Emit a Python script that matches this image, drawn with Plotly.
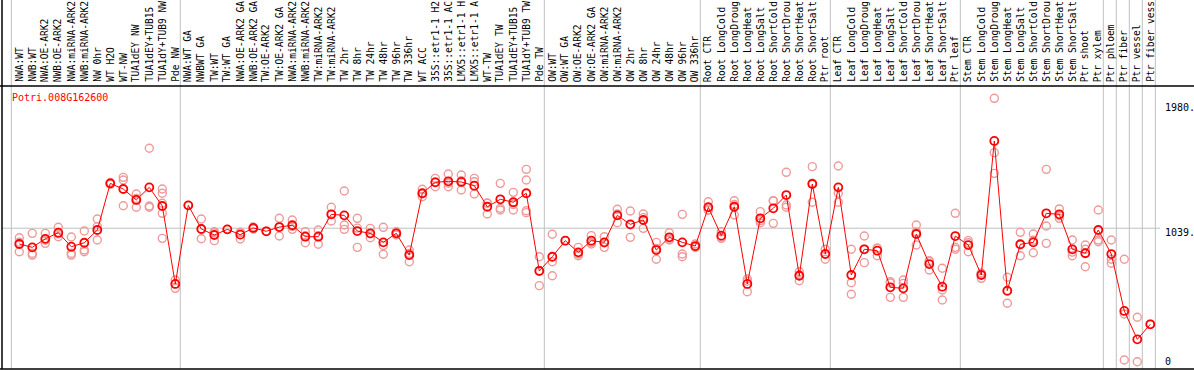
import plotly.graph_objects as go

title = "Potri.008G162600"

labels = [
    "NWA:WT", "NWB:WT", "NWA:OE-ARK2", "NWB:OE-ARK2", "NWA:miRNA-ARK2", "NWB:miRNA-ARK2",
    "NW 0hr", "WT H2O", "WT-NW", "TUA1dEY NW", "TUA1dEY+TUB15", "TUA1dY+TUB9 NW", "Pde NW",
    "NWA:WT GA", "NWBWT GA", "TW:WT", "TW:WT GA", "NWA:OE-ARK2 GA", "NWB:OE-ARK2 GA",
    "TW:OE-ARK2", "TW:OE-ARK2 GA", "NWA:miRNA-ARK2", "NWB:miRNA-ARK2", "TW:miRNA-ARK2",
    "TW:miRNA-ARK2", "TW 2hr", "TW 8hr", "TW 24hr", "TW 48hr", "TW 96hr", "TW 336hr",
    "WT ACC", "35S::etr1-1 H2", "35S::etr1-1 AC", "LMX5::etr1-1 H", "LMX5::etr1-1 A",
    "WT-TW", "TUA1dEY TW", "TUA1dEY+TUB15", "TUA1dY+TUB9 TW", "Pde TW",
    "OW:WT", "OW:WT GA", "OW:OE-ARK2", "OW:OE-ARK2 GA", "OW:miRNA-ARK2", "OW:miRNA-ARK2",
    "OW 2hr", "OW 8hr", "OW 24hr", "OW 48hr", "OW 96hr", "OW 336hr",
    "Root CTR", "Root LongCold", "Root LongDroug", "Root LongHeat", "Root LongSalt",
    "Root ShortCold", "Root ShortDrou", "Root ShortHeat", "Root ShortSalt", "Ptr root",
    "Leaf CTR", "Leaf LongCold", "Leaf LongDroug", "Leaf LongHeat", "Leaf LongSalt",
    "Leaf ShortCold", "Leaf ShortDrou", "Leaf ShortHeat", "Leaf ShortSalt", "Ptr leaf",
    "Stem CTR", "Stem LongCold", "Stem LongDroug", "Stem LongHeat", "Stem LongSalt",
    "Stem ShortCold", "Stem ShortDrou", "Stem ShortHeat", "Stem ShortSalt", "Ptr shoot",
    "Ptr xylem", "Ptr phloem", "Ptr fiber", "Ptr vessel", "Ptr fiber vess",
]

means = [
    916, 890, 956, 1004, 895, 926, 1025, 1388, 1344, 1259, 1357, 1212, 605,
    1217, 1033, 986, 1030, 989, 1041, 1015, 1048, 1062, 973, 973, 1147, 1139, 1017, 999,
    929, 999, 830, 1311, 1396, 1404, 1399, 1370, 1206, 1264, 1241, 1311, 706,
    817, 942, 851, 942, 929, 1139, 1069, 1103, 869, 968, 929, 900,
    1202, 981, 1206, 605, 1116, 1194, 1297, 669, 1383, 838,
    1357, 675, 875, 864, 579, 571, 994, 760, 584, 978,
    908, 675, 1718, 553, 914, 929, 1155, 1147, 875, 844, 1025,
    838, 395, 174, 291,
]

replicates = [
    [965, 930, 856], [999, 844, 830], [999, 945, 921], [1046, 995, 973], [971, 844, 830],
    [1017, 869, 856], [1111, 1051, 947], [1388, 1395, 1380], [1435, 1414, 1214],
    [1305, 1270, 1202], [1661, 1212, 1202], [1344, 1311, 1233, 1155, 960], [636, 605, 571],
    [1217], [1111, 1033, 957], [1012, 1004, 942], [1030], [1004, 1008, 955], [1048, 1033],
    [1015], [1116, 1050, 978], [1103, 1053, 1030], [1012, 980, 926], [1025, 980, 914],
    [1202, 1147, 1095], [1329, 1064, 1030], [1116, 1040, 890], [1038, 995, 965],
    [1046, 905, 836], [1012, 999, 986], [869, 843, 778], [1342, 1307, 1284],
    [1427, 1399, 1362], [1461, 1389, 1362], [1453, 1408, 1336], [1427, 1401, 1305],
    [1233, 1235, 1150], [1388, 1194, 1181], [1318, 1224, 1181], [1497, 1414, 1175, 1160],
    [817, 709, 592],
    [992, 778, 669], [942], [890, 838, 825], [981, 929, 916], [973, 925, 890],
    [1186, 1150, 1082], [1173, 1066, 968], [1150, 1121, 1038], [929, 881, 797],
    [1004, 953, 947], [1147, 838, 817], [916, 895, 890],
    [1245, 1181, 1180], [1012, 971, 960], [1253, 1223, 1142], [644, 626, 545],
    [1168, 1098, 1082], [1251, 1254, 1077], [1474, 1220, 1202], [700, 677, 630],
    [1518, 1390, 1241], [875, 842, 797],
    [1523, 1311, 1241], [875, 615, 525], [978, 876, 771], [884, 883, 825], [623, 613, 501],
    [636, 610, 501], [1064, 1010, 908], [786, 780, 714], [727, 558, 480], [1155, 890, 875],
    [942, 926, 856], [688, 688, 649], [2050, 1627, 1466], [657, 547, 455], [1007, 910, 825],
    [994, 945, 848], [1497, 1056, 921], [1189, 1136, 1116], [947, 853, 825],
    [908, 875, 739], [1181, 947, 934],
    [947, 797, 766], [797, 371, 13], [346, 0], [291],
]

# group boundaries (after these column counts)
group_ends = [0, 13, 41, 53, 63, 73, 84, 85, 86, 87, 88]

tick_vals = [1980, 1039, 0]
tick_text = ["1980.", "1039.", "0"]
grid_val = 1039

W, H = 1194, 370
top_px, bot_px = 86, 369
plot_h = bot_px - top_px

x_idx = list(range(1, len(labels) + 1))
rep_x, rep_y = [], []
for i, reps in zip(x_idx, replicates):
    for v in reps:
        rep_x.append(i)
        rep_y.append(v)

# axis ranges: column i at pixel 6.3 + 13*i ; value v at pixel 361.7 - 0.12848*v
xr = [(0 - 6.3) / 13, (W - 6.3) / 13]
yr = [(361.7 - bot_px) / 0.12848, (361.7 - top_px) / 0.12848]

def py(px):  # pixel y -> paper y
    return (bot_px - px) / plot_h

fig = go.Figure()
fig.add_trace(go.Scatter(
    x=rep_x, y=rep_y, mode="markers",
    marker=dict(symbol="circle-open", size=8, color="#ee9a9a", line=dict(width=1.4, color="#ee9a9a")),
    hoverinfo="skip", showlegend=False, cliponaxis=False,
))
fig.add_trace(go.Scatter(
    x=x_idx, y=means, mode="lines+markers",
    line=dict(color="#ff0000", width=1),
    marker=dict(symbol="circle-open", size=8, color="#ff0000", line=dict(width=1.8, color="#ff0000")),
    showlegend=False, cliponaxis=False,
))

shapes = []
for g in group_ends:
    xv = g + 0.385
    shapes.append(dict(type="line", xref="x", yref="paper", x0=xv, x1=xv, y0=0, y1=py(0),
                       line=dict(color="#c0c0c0", width=1), layer="below"))
shapes.append(dict(type="line", xref="paper", yref="y", x0=2 / W, x1=1160 / W, y0=grid_val, y1=grid_val,
                   line=dict(color="#c0c0c0", width=1), layer="below"))
shapes.append(dict(type="line", xref="paper", yref="paper", x0=2 / W, x1=2 / W, y0=py(bot_px), y1=py(0),
                   line=dict(color="black", width=1.5)))
shapes.append(dict(type="line", xref="paper", yref="paper", x0=0, x1=1, y0=py(top_px), y1=py(top_px),
                   line=dict(color="black", width=1.5)))
shapes.append(dict(type="line", xref="paper", yref="paper", x0=0, x1=1, y0=py(bot_px), y1=py(bot_px),
                   line=dict(color="black", width=1.5)))

mono = "DejaVu Sans Mono"
annotations = []
for i, lab in zip(x_idx, labels):
    annotations.append(dict(x=i, xref="x", y=py(83), yref="paper", text=lab, textangle=-90,
                            showarrow=False, xanchor="center", yanchor="bottom", borderpad=0,
                            font=dict(family=mono, size=9.6, color="black")))
annotations.append(dict(x=10 / W, xref="paper", y=py(97), yref="paper", text=title, showarrow=False,
                        xanchor="left", yanchor="middle", font=dict(family=mono, size=10, color="#ff0000")))
tick_px = [107.3, 232.7, 361.7]
for t, p in zip(tick_text, tick_px):
    annotations.append(dict(x=1163 / W, xref="paper", y=py(p), yref="paper", text=t, showarrow=False,
                            xanchor="left", yanchor="middle", font=dict(family=mono, size=10, color="black")))

fig.update_layout(
    width=W, height=H,
    margin=dict(l=0, r=0, t=top_px, b=H - bot_px, pad=0),
    paper_bgcolor="white", plot_bgcolor="white",
    xaxis=dict(range=xr, showgrid=False, zeroline=False, showticklabels=False, showline=False, fixedrange=True),
    yaxis=dict(range=yr, showgrid=False, zeroline=False, showticklabels=False, showline=False, fixedrange=True),
    shapes=shapes, annotations=annotations,
)

fig.write_html("out.html", config={"displayModeBar": False},
               post_script="document.body.style.margin='0';document.body.style.overflow='hidden';")
